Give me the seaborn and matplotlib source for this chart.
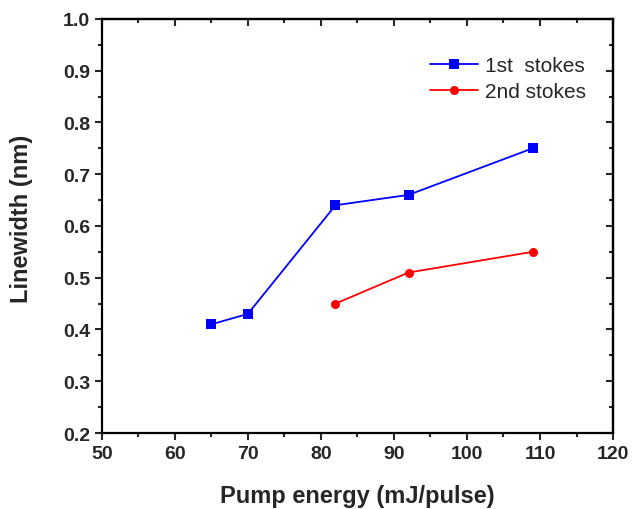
import matplotlib
matplotlib.use("Agg")
import matplotlib.pyplot as plt
import seaborn as sns
import pandas as pd
from matplotlib.ticker import MultipleLocator

# data
energy_1st = [65, 70, 82, 92, 109]
width_1st = [0.41, 0.43, 0.64, 0.66, 0.75]
energy_2nd = [82, 92, 109]
width_2nd = [0.45, 0.51, 0.55]
series_names = ["1st  stokes", "2nd stokes"]

df = pd.concat([
    pd.DataFrame({"energy": energy_1st, "width": width_1st, "series": series_names[0]}),
    pd.DataFrame({"energy": energy_2nd, "width": width_2nd, "series": series_names[1]}),
])

sns.set_style("ticks")
plt.rcParams["font.family"] = ["Liberation Sans", "DejaVu Sans"]

fig = plt.figure(figsize=(6.32, 5.1), dpi=100)
ax = fig.add_axes([0.161, 0.149, 0.809, 0.812])

sns.lineplot(data=df, x="energy", y="width", hue="series", style="series",
             palette=["#0000ff", "#ff0000"], markers=["s", "o"], dashes=False,
             markersize=6.5, markeredgewidth=0, linewidth=1.3, ax=ax)

ax.set_xlim(50, 120)
ax.set_ylim(0.2, 1.0)
ax.xaxis.set_major_locator(MultipleLocator(10))
ax.xaxis.set_minor_locator(MultipleLocator(5))
ax.yaxis.set_major_locator(MultipleLocator(0.1))
ax.yaxis.set_minor_locator(MultipleLocator(0.05))
ax.yaxis.set_major_formatter(plt.FuncFormatter(lambda v, p: f"{v:.1f}"))

for s in ax.spines.values():
    s.set_linewidth(1.6)
    s.set_color("black")

ax.tick_params(which="both", direction="out", width=1.5, labelsize=14,
               top=False, right=False)
ax.tick_params(which="major", length=5)
ax.tick_params(which="minor", length=3)
for lab in ax.get_xticklabels() + ax.get_yticklabels():
    lab.set_fontweight("bold")

# inward ticks on top and right like Origin
ax_t = ax.secondary_xaxis("top")
ax_t.xaxis.set_major_locator(MultipleLocator(10))
ax_t.xaxis.set_minor_locator(MultipleLocator(5))
ax_t.tick_params(which="both", direction="in", width=1.5, labeltop=False)
ax_t.tick_params(which="major", length=5)
ax_t.tick_params(which="minor", length=3)
ax_r = ax.secondary_yaxis("right")
ax_r.yaxis.set_major_locator(MultipleLocator(0.1))
ax_r.yaxis.set_minor_locator(MultipleLocator(0.05))
ax_r.tick_params(which="both", direction="in", width=1.5, labelright=False)
ax_r.tick_params(which="major", length=5)
ax_r.tick_params(which="minor", length=3)
ax_t.spines["top"].set_linewidth(1.6)
ax_r.spines["right"].set_linewidth(1.6)

ax.set_xlabel("Pump energy (mJ/pulse)", fontsize=17, fontweight="bold")
ax.set_ylabel("Linewidth (nm)", fontsize=17, fontweight="bold")
ax.xaxis.set_label_coords(0.5, -0.123)
ax.yaxis.set_label_coords(-0.135, 0.52)

leg = ax.legend(loc="upper right", bbox_to_anchor=(0.947, 0.910), frameon=False,
                fontsize=15, handlelength=2.3, handletextpad=0.35,
                labelspacing=0.35, borderpad=0, borderaxespad=0)

fig.savefig("out.png", dpi=100)
